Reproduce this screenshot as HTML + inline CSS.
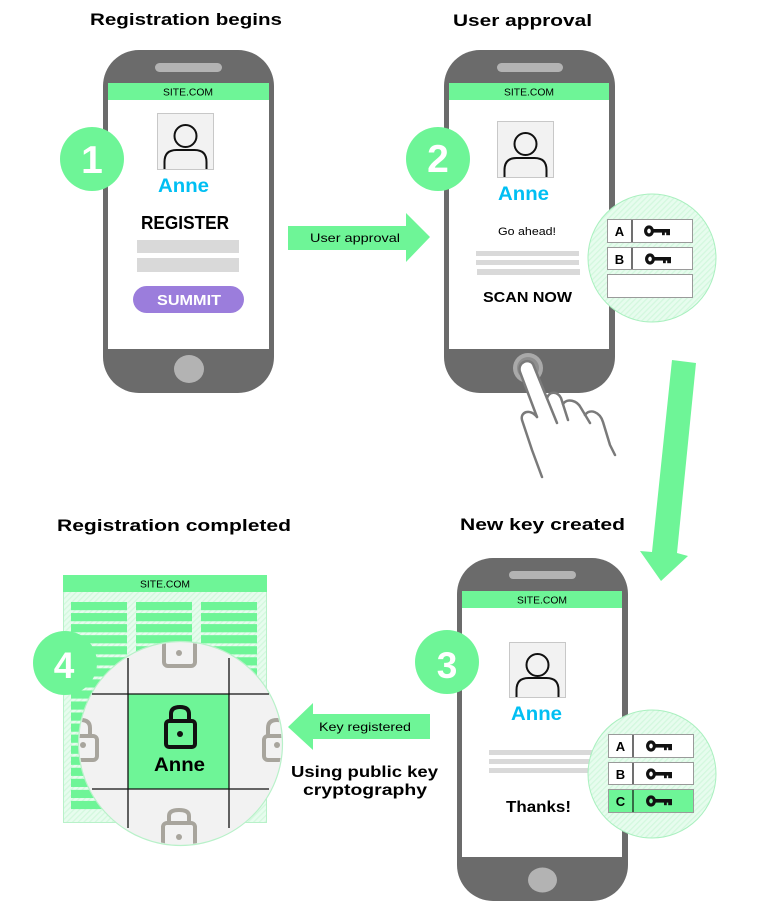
<!DOCTYPE html>
<html><head><meta charset="utf-8"><style>
html,body{margin:0;padding:0;background:#fff;}
svg{display:block;}
text{font-family:"Liberation Sans",sans-serif;}
.b{font-weight:bold;}
</style></head><body>
<svg width="759" height="916" viewBox="0 0 759 916" xmlns="http://www.w3.org/2000/svg">
<defs>
<pattern id="hatch" patternUnits="userSpaceOnUse" width="4" height="4" patternTransform="rotate(45)">
<rect width="4" height="4" fill="#e7fcee"/><rect width="1.3" height="4" fill="#d3f8de"/>
</pattern>
<pattern id="rows" patternUnits="userSpaceOnUse" x="0" y="602" width="300" height="11.05">
<rect x="0" y="0" width="300" height="8.2" fill="#6ef597"/>
</pattern>
<clipPath id="bigc"><circle cx="180.5" cy="743.5" r="101"/></clipPath>
</defs>

<!-- Headings -->
<text x="90" y="25" class="b" font-size="17" textLength="192" lengthAdjust="spacingAndGlyphs">Registration begins</text>
<text x="453" y="26" class="b" font-size="17" textLength="139" lengthAdjust="spacingAndGlyphs">User approval</text>
<text x="57" y="531" class="b" font-size="17" textLength="234" lengthAdjust="spacingAndGlyphs">Registration completed</text>
<text x="460" y="530" class="b" font-size="17" textLength="165" lengthAdjust="spacingAndGlyphs">New key created</text>

<!-- ===== Phone 1 ===== -->
<rect x="103" y="50" width="171" height="343" rx="36" fill="#6b6b6b"/>
<rect x="155" y="63" width="67" height="9" rx="4.5" fill="#b3b3b3"/>
<rect x="108" y="83" width="161" height="266" fill="#fff"/>
<rect x="108" y="83" width="161" height="17" fill="#6ef597"/>
<text x="188" y="95.5" font-size="10" text-anchor="middle" textLength="50" lengthAdjust="spacingAndGlyphs">SITE.COM</text>
<rect x="157.5" y="113.5" width="56" height="56" fill="#f2f2f2" stroke="#c8c8c8"/>
<circle cx="185.5" cy="136" r="11" fill="none" stroke="#111" stroke-width="2"/>
<path d="M164.5,169 V162 Q164.5,150 176.5,150 H194.5 Q206.5,150 206.5,162 V169" fill="none" stroke="#111" stroke-width="2"/>
<text x="158" y="192" class="b" font-size="19" fill="#00bff3" textLength="51" lengthAdjust="spacingAndGlyphs">Anne</text>
<text x="141" y="229" class="b" font-size="18" textLength="88" lengthAdjust="spacingAndGlyphs">REGISTER</text>
<rect x="137" y="240" width="102" height="13" fill="#d9d9d9"/>
<rect x="137" y="258" width="102" height="14" fill="#d9d9d9"/>
<rect x="133" y="286" width="111" height="27" rx="13.5" fill="#9b7ddc"/>
<text x="157" y="305" class="b" font-size="15" fill="#fff" textLength="64" lengthAdjust="spacingAndGlyphs">SUMMIT</text>
<ellipse cx="189" cy="369" rx="15" ry="14" fill="#b3b3b3"/>
<circle cx="92" cy="159" r="32" fill="#6ef597"/>
<text x="92" y="173" class="b" font-size="39" fill="#fff" text-anchor="middle">1</text>

<!-- Arrow 1 -->
<polygon points="288,226 406,226 406,213 430,237 406,262 406,250 288,250" fill="#6ef597"/>
<text x="310" y="242" font-size="12" textLength="90" lengthAdjust="spacingAndGlyphs">User approval</text>

<!-- ===== Phone 2 ===== -->
<rect x="444" y="50" width="171" height="343" rx="36" fill="#6b6b6b"/>
<rect x="497" y="63" width="66" height="9" rx="4.5" fill="#b3b3b3"/>
<rect x="449" y="83" width="160" height="266" fill="#fff"/>
<rect x="449" y="83" width="160" height="17" fill="#6ef597"/>
<text x="529" y="95.5" font-size="10" text-anchor="middle" textLength="50" lengthAdjust="spacingAndGlyphs">SITE.COM</text>
<rect x="497.5" y="121.5" width="56" height="56" fill="#f2f2f2" stroke="#c8c8c8"/>
<circle cx="525.5" cy="144" r="11" fill="none" stroke="#111" stroke-width="2"/>
<path d="M504.5,177 V170 Q504.5,158 516.5,158 H534.5 Q546.5,158 546.5,170 V177" fill="none" stroke="#111" stroke-width="2"/>
<text x="498" y="200" class="b" font-size="19" fill="#00bff3" textLength="51" lengthAdjust="spacingAndGlyphs">Anne</text>
<text x="498" y="235" font-size="11" textLength="58" lengthAdjust="spacingAndGlyphs">Go ahead!</text>
<rect x="476" y="251" width="103" height="5" fill="#d9d9d9"/>
<rect x="476" y="260" width="103" height="5" fill="#d9d9d9"/>
<rect x="477" y="269" width="103" height="6" fill="#d9d9d9"/>
<text x="483" y="302" class="b" font-size="15" textLength="89" lengthAdjust="spacingAndGlyphs">SCAN NOW</text>
<circle cx="528" cy="368" r="15" fill="#a9a9a9"/>
<circle cx="528" cy="368" r="11" fill="#8e8e8e"/>
<circle cx="438" cy="159" r="32" fill="#6ef597"/>
<text x="438" y="172" class="b" font-size="39" fill="#fff" text-anchor="middle">2</text>

<!-- hand -->
<g fill="#fff" stroke="#7a7a7a" stroke-width="2.5" stroke-linecap="round" stroke-linejoin="round">
<path d="M537,417 L520,372 C517,362 529,358 533,364 L557,423 Z" stroke="none"/>
<path d="M537,417 L520,372 C517,362 529,358 533,364 L557,423" fill="none"/>
<path d="M547,398 C550,390 558,392 561,398 L568,420" fill="none"/>
<path d="M563,404 C567,398 577,400 581,408 L590,423" fill="none"/>
<path d="M585,415 C590,408 600,412 603,422 L610,445 L615,455" fill="none"/>
<path d="M537,417 C530,408 520,412 522,420 L532,450 L542,477" fill="none"/>
</g>

<!-- key circle 2 -->
<circle cx="652" cy="258" r="64" fill="url(#hatch)" stroke="#a9f0bf" stroke-width="1"/>
<g stroke="#9a9a9a" stroke-width="1">
<rect x="607.5" y="219.5" width="85" height="23" fill="#fff"/>
<rect x="607.5" y="247.5" width="85" height="22" fill="#fff"/>
<rect x="607.5" y="274.5" width="85" height="23" fill="#fff"/>
</g>
<line x1="632" y1="220" x2="632" y2="242" stroke="#111" stroke-width="1.2"/>
<line x1="632" y1="248" x2="632" y2="269" stroke="#111" stroke-width="1.2"/>
<text x="619.5" y="236" class="b" font-size="13" text-anchor="middle">A</text>
<text x="619.5" y="264" class="b" font-size="13" text-anchor="middle">B</text>
<g id="k1">
<ellipse cx="649" cy="231" rx="3.4" ry="4" fill="none" stroke="#111" stroke-width="3.2"/>
<rect x="652" y="229" width="18" height="3.6" fill="#111"/>
<rect x="662" y="231" width="2.8" height="4.2" fill="#111"/>
<rect x="666.2" y="231" width="3.8" height="4.2" fill="#111"/>
</g>
<use href="#k1" x="1" y="28"/>

<!-- diagonal arrow -->
<polygon points="672,360 696,363 677,553 688,556 661,581 640,551 652,552" fill="#6ef597"/>

<!-- ===== Phone 3 ===== -->
<rect x="457" y="558" width="171" height="343" rx="36" fill="#6b6b6b"/>
<rect x="509" y="571" width="67" height="8" rx="4" fill="#b3b3b3"/>
<rect x="462" y="591" width="160" height="266" fill="#fff"/>
<rect x="462" y="591" width="160" height="17" fill="#6ef597"/>
<text x="542" y="603.5" font-size="10" text-anchor="middle" textLength="50" lengthAdjust="spacingAndGlyphs">SITE.COM</text>
<rect x="509.5" y="642.5" width="56" height="55" fill="#f2f2f2" stroke="#c8c8c8"/>
<circle cx="537.5" cy="665" r="11" fill="none" stroke="#111" stroke-width="2"/>
<path d="M516.5,697 V690 Q516.5,678 528.5,678 H546.5 Q558.5,678 558.5,690 V697" fill="none" stroke="#111" stroke-width="2"/>
<text x="511" y="720" class="b" font-size="19" fill="#00bff3" textLength="51" lengthAdjust="spacingAndGlyphs">Anne</text>
<rect x="489" y="750" width="105" height="5" fill="#d9d9d9"/>
<rect x="489" y="759" width="105" height="5" fill="#d9d9d9"/>
<rect x="489" y="768" width="105" height="5" fill="#d9d9d9"/>
<text x="506" y="812" class="b" font-size="16" textLength="65" lengthAdjust="spacingAndGlyphs">Thanks!</text>
<ellipse cx="542.5" cy="880" rx="14.5" ry="12.5" fill="#b3b3b3"/>
<circle cx="447" cy="662" r="32" fill="#6ef597"/>
<text x="447" y="678" class="b" font-size="37" fill="#fff" text-anchor="middle">3</text>

<!-- key circle 3 -->
<circle cx="652" cy="774" r="64" fill="url(#hatch)" stroke="#a9f0bf" stroke-width="1"/>
<g stroke="#9a9a9a" stroke-width="1">
<rect x="608.5" y="734.5" width="85" height="23" fill="#fff"/>
<rect x="608.5" y="762.5" width="85" height="22" fill="#fff"/>
<rect x="608.5" y="789.5" width="85" height="23" fill="#6ef597"/>
</g>
<line x1="633" y1="735" x2="633" y2="757" stroke="#111" stroke-width="1.2"/>
<line x1="633" y1="763" x2="633" y2="784" stroke="#111" stroke-width="1.2"/>
<line x1="633" y1="790" x2="633" y2="812" stroke="#111" stroke-width="1.2"/>
<text x="620.5" y="751" class="b" font-size="13" text-anchor="middle">A</text>
<text x="620.5" y="779" class="b" font-size="13" text-anchor="middle">B</text>
<text x="620.5" y="806" class="b" font-size="13" text-anchor="middle">C</text>
<use href="#k1" x="2" y="515"/>
<use href="#k1" x="2" y="543"/>
<use href="#k1" x="2" y="570"/>

<!-- Arrow 2 -->
<polygon points="430,714 313,714 313,703 288,727 313,750 313,739 430,739" fill="#6ef597"/>
<text x="319" y="731" font-size="12" textLength="92" lengthAdjust="spacingAndGlyphs">Key registered</text>
<text x="291" y="777" class="b" font-size="16" textLength="147" lengthAdjust="spacingAndGlyphs">Using public key</text>
<text x="303" y="795" class="b" font-size="16" textLength="124" lengthAdjust="spacingAndGlyphs">cryptography</text>

<!-- ===== Registration completed ===== -->
<rect x="63.5" y="575.5" width="203" height="247" fill="url(#hatch)" stroke="#b8f1c9"/>
<rect x="63" y="575" width="204" height="17" fill="#6ef597"/>
<text x="165" y="587.5" font-size="10" text-anchor="middle" textLength="50" lengthAdjust="spacingAndGlyphs">SITE.COM</text>
<rect x="71" y="602" width="56" height="209" fill="url(#rows)"/>
<rect x="136" y="602" width="56" height="209" fill="url(#rows)"/>
<rect x="201" y="602" width="56" height="209" fill="url(#rows)"/>

<circle cx="65" cy="663" r="32" fill="#6ef597"/>
<text x="64" y="678" class="b" font-size="37" fill="#fff" text-anchor="middle">4</text>

<circle cx="180.5" cy="743.5" r="102" fill="#f2f2f2" stroke="#b8f1c9" stroke-width="1.2"/>
<g clip-path="url(#bigc)">
<rect x="128" y="694" width="101" height="95" fill="#6ef597"/>
<g fill="none" stroke="#a8a59d" stroke-width="4">
<rect x="164" y="626" width="31" height="40" rx="4"/>
<path d="M169,823 V816 Q169,810 179,810 Q189,810 189,816 V823"/>
<rect x="163" y="823" width="32" height="30" rx="4"/>
<path d="M72,736 V728 Q72,720 81,720 Q90,720 90,728 V736"/>
<rect x="64" y="736" width="33" height="24" rx="4"/>
<path d="M268,736 V728 Q268,720 277,720 Q286,720 286,728 V736"/>
<rect x="264" y="736" width="33" height="24" rx="4"/>
</g>
<g fill="#a8a59d">
<circle cx="179" cy="653" r="3"/>
<circle cx="179" cy="837" r="3"/>
<circle cx="83" cy="745" r="3"/>
<circle cx="277" cy="745" r="3"/>
</g>
</g>
<g stroke="#111" stroke-width="1.3">
<line x1="128" y1="658" x2="128" y2="828"/>
<line x1="229" y1="658" x2="229" y2="828"/>
<line x1="92" y1="694" x2="269" y2="694"/>
<line x1="92" y1="789" x2="269" y2="789"/>
</g>
<path d="M171,721 V714 Q171,707 180,707 Q189,707 189,714 V721" fill="none" stroke="#111" stroke-width="4"/>
<rect x="166" y="721" width="29" height="26" rx="3" fill="none" stroke="#111" stroke-width="4"/>
<circle cx="180" cy="734" r="3" fill="#111"/>
<text x="154" y="771" class="b" font-size="19" textLength="51" lengthAdjust="spacingAndGlyphs">Anne</text>
</svg>
</body></html>
